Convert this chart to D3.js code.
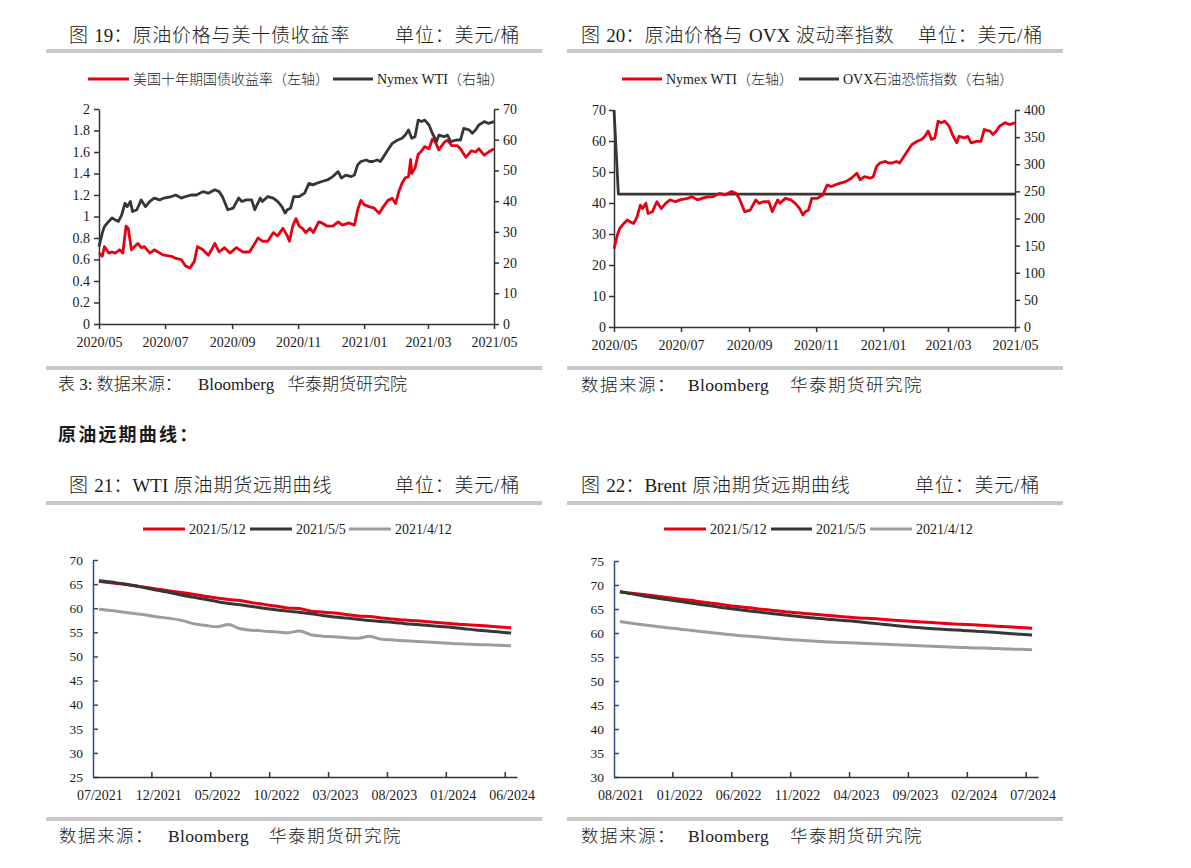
<!DOCTYPE html>
<html><head><meta charset="utf-8">
<script src="https://cdn.jsdelivr.net/npm/d3@7"></script>
<style>
html,body{margin:0;padding:0;background:#fff;}
svg{display:block;font-family:"Liberation Serif","Times New Roman","Noto Sans CJK SC",serif;}
.cjk{font-family:"Liberation Serif","Noto Sans CJK SC",sans-serif;font-weight:300;}
</style></head>
<body>
<svg id="c" width="1191" height="868"></svg>
<script>
// ---------- DATA ----------
// 图19 / 图20 : time series
const yieldDates = ["2020-05-01","2020-05-04","2020-05-06","2020-05-10","2020-05-13","2020-05-16","2020-05-20","2020-05-23","2020-05-26","2020-05-28","2020-05-31","2020-06-03","2020-06-06","2020-06-09","2020-06-12","2020-06-17","2020-06-21","2020-06-26","2020-06-30","2020-07-07","2020-07-11","2020-07-16","2020-07-20","2020-07-24","2020-07-28","2020-07-31","2020-08-05","2020-08-10","2020-08-13","2020-08-16","2020-08-20","2020-08-25","2020-08-30","2020-09-05","2020-09-11","2020-09-17","2020-09-22","2020-09-25","2020-09-29","2020-10-04","2020-10-09","2020-10-13","2020-10-18","2020-10-22","2020-10-24","2020-10-27","2020-10-30","2020-11-02","2020-11-05","2020-11-08","2020-11-12","2020-11-15","2020-11-20","2020-11-23","2020-11-28","2020-12-03","2020-12-08","2020-12-12","2020-12-18","2020-12-23","2020-12-26","2020-12-29","2021-01-01","2021-01-06","2021-01-10","2021-01-15","2021-01-18","2021-01-23","2021-01-27","2021-01-30","2021-02-02","2021-02-05","2021-02-08","2021-02-11","2021-02-13","2021-02-14","2021-02-17","2021-02-20","2021-02-23","2021-02-26","2021-03-02","2021-03-05","2021-03-08","2021-03-11","2021-03-16","2021-03-19","2021-03-23","2021-03-28","2021-03-31","2021-04-05","2021-04-10","2021-04-14","2021-04-17","2021-04-22","2021-04-26","2021-05-01"];
const yieldVals = [0.66,0.63,0.72,0.66,0.67,0.66,0.69,0.66,0.91,0.89,0.69,0.72,0.75,0.71,0.72,0.66,0.69,0.66,0.64,0.63,0.61,0.60,0.54,0.52,0.58,0.72,0.69,0.64,0.69,0.75,0.67,0.71,0.66,0.71,0.67,0.67,0.75,0.80,0.77,0.77,0.85,0.82,0.89,0.82,0.77,0.91,0.98,0.91,0.89,0.85,0.89,0.85,0.95,0.94,0.91,0.91,0.95,0.92,0.94,0.92,1.06,1.15,1.11,1.09,1.08,1.03,1.08,1.15,1.17,1.12,1.23,1.31,1.36,1.37,1.53,1.40,1.45,1.58,1.61,1.65,1.63,1.72,1.69,1.62,1.69,1.71,1.66,1.66,1.63,1.55,1.61,1.60,1.63,1.57,1.60,1.63];

const wtiDates = ["2020-05-01","2020-05-04","2020-05-06","2020-05-10","2020-05-13","2020-05-16","2020-05-19","2020-05-22","2020-05-25","2020-05-27","2020-05-30","2020-06-01","2020-06-05","2020-06-09","2020-06-13","2020-06-17","2020-06-21","2020-06-26","2020-06-30","2020-07-07","2020-07-11","2020-07-16","2020-07-20","2020-07-25","2020-07-30","2020-08-05","2020-08-10","2020-08-16","2020-08-20","2020-08-23","2020-08-28","2020-09-02","2020-09-07","2020-09-10","2020-09-14","2020-09-19","2020-09-22","2020-09-27","2020-09-29","2020-10-04","2020-10-09","2020-10-13","2020-10-17","2020-10-20","2020-10-22","2020-10-25","2020-10-28","2020-11-02","2020-11-07","2020-11-11","2020-11-15","2020-11-18","2020-11-23","2020-11-28","2020-12-03","2020-12-08","2020-12-11","2020-12-15","2020-12-20","2020-12-23","2020-12-26","2020-12-29","2021-01-03","2021-01-06","2021-01-09","2021-01-13","2021-01-16","2021-01-19","2021-01-23","2021-01-27","2021-02-01","2021-02-05","2021-02-08","2021-02-11","2021-02-14","2021-02-17","2021-02-20","2021-02-23","2021-02-26","2021-03-02","2021-03-05","2021-03-09","2021-03-11","2021-03-16","2021-03-19","2021-03-22","2021-03-27","2021-03-31","2021-04-03","2021-04-08","2021-04-11","2021-04-14","2021-04-17","2021-04-22","2021-04-26","2021-05-01"];
const wtiVals = [25.2,29.6,31.7,33.4,34.5,33.9,33.4,35.5,39.3,38.2,39.9,36.6,37.2,40.4,38.2,39.9,41.0,40.4,41.0,41.5,42.0,41.0,41.5,42.0,42.0,43.1,42.6,43.7,43.1,41.5,37.2,37.7,41.0,39.9,40.4,40.4,37.2,41.0,39.9,41.5,41.0,39.9,38.2,36.1,37.2,37.7,41.5,41.5,42.6,45.8,45.3,45.8,46.4,46.9,48.0,49.6,47.5,48.5,48.0,48.5,51.8,52.9,53.4,52.9,52.9,53.4,52.9,54.5,56.7,58.8,59.9,60.5,61.5,63.2,60.5,61.0,66.4,65.9,66.4,64.8,62.1,59.4,61.5,61.0,61.5,59.4,59.9,59.9,63.7,63.2,62.1,63.2,64.8,65.9,65.3,65.9];

const ovxDates = ["2020-05-01","2020-05-05","2021-05-01"];
const ovxVals = [400,245,245];

const timeTickDates = ["2020-05-01","2020-07-01","2020-09-01","2020-11-01","2021-01-01","2021-03-01","2021-05-01"];
const timeTickLabels = ["2020/05","2020/07","2020/09","2020/11","2021/01","2021/03","2021/05"];
const yieldTicks = [0,0.2,0.4,0.6,0.8,1,1.2,1.4,1.6,1.8,2];
const wti70Ticks = [0,10,20,30,40,50,60,70];
const ovxTicks = [0,50,100,150,200,250,300,350,400];

// 图21 : WTI forward curves
const wtiMonths = ["07/2021","08/2021","09/2021","10/2021","11/2021","12/2021","01/2022","02/2022","03/2022","04/2022","05/2022","06/2022","07/2022","08/2022","09/2022","10/2022","11/2022","12/2022","01/2023","02/2023","03/2023","04/2023","05/2023","06/2023","07/2023","08/2023","09/2023","10/2023","11/2023","12/2023","01/2024","02/2024","03/2024","04/2024","05/2024","06/2024"];
const wtiCurve0512 = [65.55,65.3,65.0,64.65,64.3,63.95,63.6,63.25,62.9,62.5,62.1,61.8,61.6,61.15,60.8,60.45,60.05,59.95,59.4,59.2,59.0,58.7,58.4,58.3,57.95,57.75,57.55,57.4,57.2,57.0,56.8,56.6,56.45,56.3,56.1,55.95];
const wtiCurve0505 = [65.7,65.45,65.1,64.7,64.2,63.7,63.25,62.75,62.3,61.85,61.4,61.0,60.7,60.35,60.0,59.7,59.4,59.15,58.85,58.5,58.2,57.95,57.7,57.45,57.25,57.05,56.8,56.6,56.4,56.2,56.0,55.75,55.5,55.3,55.05,54.85];
const wtiCurve0412 = [59.8,59.55,59.2,58.9,58.6,58.2,57.9,57.5,56.8,56.45,56.15,56.6,55.75,55.45,55.25,55.1,54.9,55.3,54.5,54.2,54.1,53.9,53.75,54.2,53.55,53.4,53.25,53.1,53.0,52.85,52.7,52.6,52.5,52.4,52.3,52.2];
const wtiYTicks = [25,30,35,40,45,50,55,60,65,70];

// 图22 : Brent forward curves
const brentMonths = ["08/2021","09/2021","10/2021","11/2021","12/2021","01/2022","02/2022","03/2022","04/2022","05/2022","06/2022","07/2022","08/2022","09/2022","10/2022","11/2022","12/2022","01/2023","02/2023","03/2023","04/2023","05/2023","06/2023","07/2023","08/2023","09/2023","10/2023","11/2023","12/2023","01/2024","02/2024","03/2024","04/2024","05/2024","06/2024","07/2024"];
const brentCurve0512 = [68.6,68.3,68.0,67.7,67.4,67.1,66.8,66.45,66.15,65.8,65.5,65.25,64.95,64.7,64.45,64.2,64.0,63.8,63.6,63.4,63.2,63.05,62.9,62.7,62.55,62.4,62.25,62.1,61.95,61.8,61.7,61.55,61.4,61.3,61.15,61.0];
const brentCurve0505 = [68.6,68.15,67.7,67.35,66.95,66.6,66.25,65.9,65.55,65.2,64.9,64.6,64.3,64.0,63.75,63.5,63.25,63.0,62.8,62.6,62.4,62.15,61.9,61.65,61.4,61.2,61.0,60.85,60.7,60.55,60.4,60.25,60.1,59.9,59.75,59.6];
const brentCurve0412 = [62.4,62.05,61.7,61.4,61.1,60.85,60.55,60.25,60.0,59.75,59.5,59.3,59.1,58.9,58.7,58.55,58.4,58.25,58.1,58.0,57.9,57.8,57.7,57.6,57.5,57.4,57.3,57.2,57.1,57.0,56.9,56.85,56.75,56.65,56.6,56.5];
const brentYTicks = [30,35,40,45,50,55,60,65,70,75];

const curveLegend = ["2021/5/12","2021/5/5","2021/4/12"];

// ---------- STYLE ----------
const RED = "#e60012", DARK = "#363636", GRAY = "#9d9d9d", BAR = "#c8c8c8", TXT = "#1a1a1a";
const parse = d3.timeParse("%Y-%m-%d");
const svg = d3.select("#c");
svg.append("rect").attr("width",1191).attr("height",868).attr("fill","#fff");

function txt(x, y, s, size, opts={}) {
  const t = svg.append("text").attr("x",x).attr("y",y).text(s)
    .attr("font-size",size).attr("fill",opts.fill||TXT)
    .attr("dominant-baseline","central")
    .attr("text-anchor",opts.anchor||"start");
  if (opts.ls) t.attr("letter-spacing",opts.ls);
  if (opts.weight) t.attr("font-weight",opts.weight);
  if (opts.cls) t.attr("class",opts.cls);
  return t;
}
// multi-segment text: segments [[string, letterSpacing]]
function segText(x, y, segs, size, anchor) {
  const t = svg.append("text").attr("x",x).attr("y",y).attr("font-size",size).attr("fill",TXT)
    .attr("dominant-baseline","central").attr("text-anchor",anchor||"start").attr("class","cjk");
  segs.forEach(s => t.append("tspan").text(s[0]).attr("letter-spacing",s[1]));
  return t;
}
function bar(x1, x2, y) { svg.append("rect").attr("x",x1).attr("y",y).attr("width",x2-x1).attr("height",4).attr("fill",BAR); }
function legendItem(x1, x2, y, color, label) {
  svg.append("line").attr("x1",x1).attr("x2",x2).attr("y1",y).attr("y2",y).attr("stroke",color).attr("stroke-width",3);
  txt(x2+4, y, label, 14, {cls:"cjk"});
}
function styleAxis(g, color) {
  g.select(".domain").attr("stroke",color).attr("stroke-width",1.5);
  g.selectAll(".tick line").attr("stroke",color).attr("stroke-width",1.5);
  g.selectAll(".tick text").attr("fill",TXT).attr("font-family","Liberation Serif, Times New Roman, serif");
}
function source(y, parts, xs, size, lss) {
  parts.forEach((p,i)=>txt(xs[i], y, p, size, {cls:"cjk", ls:lss[i]}));
}

// ---------- headers ----------
const TS = 19, TL = 0.8;
segText(69, 35, [["图 ",TL],["19：",0],["原油价格与美十债收益率",TL]], TS);
segText(520, 35, [["单位：美元/桶",TL]], TS, "end");
bar(46, 542, 49);
segText(581, 35, [["图 ",TL],["20：",0],["原油价格与 ",TL],["OVX",0],[" 波动率指数",TL]], TS);
segText(1043, 35, [["单位：美元/桶",TL]], TS, "end");
bar(567, 1063, 49);

bar(46, 542, 366);
bar(567, 1063, 366);
source(384, ["表 3: 数据来源：","Bloomberg","华泰期货研究院"], [58,198,288], 17, [0,0,0]);
source(385, ["数据来源：","Bloomberg","华泰期货研究院"], [581,688,790], 17.5, [1.5,0.3,1.5]);

txt(58, 435, "原油远期曲线：", 18, {ls:2.2, weight:700});

segText(69, 485, [["图 ",TL],["21：",0],["WTI",0],[" 原油期货远期曲线",TL]], TS);
segText(520, 485, [["单位：美元/桶",TL]], TS, "end");
bar(46, 542, 501);
segText(581, 485, [["图 ",TL],["22：",0],["Brent",0],[" 原油期货远期曲线",TL]], TS);
segText(1040, 485, [["单位：美元/桶",TL]], TS, "end");
bar(567, 1063, 501);

bar(46, 542, 817);
bar(567, 1063, 817);
source(836, ["数据来源：","Bloomberg","华泰期货研究院"], [59,168,269], 17.5, [1.5,0.3,1.5]);
source(836, ["数据来源：","Bloomberg","华泰期货研究院"], [581,688,790], 17.5, [1.5,0.3,1.5]);

// ---------- legends ----------
legendItem(88, 129, 79, RED, "美国十年期国债收益率（左轴）");
legendItem(333, 373, 79, DARK, "Nymex WTI（右轴）");
legendItem(622, 662, 79, RED, "Nymex WTI（左轴）");
legendItem(799, 839, 79, DARK, "OVX石油恐慌指数（右轴）");
[[143,185,RED],[250,292,DARK],[349,391,GRAY]].forEach((d,i)=>legendItem(d[0],d[1],529,d[2],curveLegend[i]));
[[664,706,RED],[771,812,DARK],[870,912,GRAY]].forEach((d,i)=>legendItem(d[0],d[1],529,d[2],curveLegend[i]));

// ---------- dual-axis time charts ----------
function dualChart(c) {
  const x = d3.scaleTime().domain([parse("2020-05-01"), parse("2021-05-01")]).range([c.x0, c.x1]);
  const yL = d3.scaleLinear().domain(c.lDomain).range([c.yb, c.yt]);
  const yR = d3.scaleLinear().domain(c.rDomain).range([c.yb, c.yt]);
  const fmt = d3.format("~g");
  const gl = svg.append("g").attr("transform",`translate(${c.x0},0)`)
    .call(d3.axisLeft(yL).tickValues(c.lTicks).tickFormat(fmt).tickSize(5).tickSizeOuter(0).tickPadding(c.lPad))
    .attr("font-size",14);
  styleAxis(gl, "#333");
  const gr = svg.append("g").attr("transform",`translate(${c.x1},0)`)
    .call(d3.axisRight(yR).tickValues(c.rTicks).tickFormat(fmt).tickSize(5).tickSizeOuter(0).tickPadding(4))
    .attr("font-size",14);
  styleAxis(gr, "#333");
  const gb = svg.append("g").attr("transform",`translate(0,${c.yb})`)
    .call(d3.axisBottom(x).tickValues(timeTickDates.map(parse)).tickFormat((d,i)=>timeTickLabels[i]).tickSize(5).tickSizeOuter(0).tickPadding(8))
    .attr("font-size",14);
  styleAxis(gb, "#333");
  c.series.forEach(s => {
    const data = s.dates.map((d,i)=>({t:parse(d), v:s.vals[i]}));
    const y = s.axis === "L" ? yL : yR;
    svg.append("path").datum(data)
      .attr("d", d3.line().x(d=>x(d.t)).y(d=>y(d.v)))
      .attr("fill","none").attr("stroke",s.color).attr("stroke-width",2.8).attr("stroke-linejoin","round");
  });
}
dualChart({x0:99, x1:494, yt:109, yb:324, lDomain:[0,2], rDomain:[0,70], lTicks:yieldTicks, rTicks:wti70Ticks, lPad:4,
  series:[{dates:yieldDates, vals:yieldVals, color:RED, axis:"L"},{dates:wtiDates, vals:wtiVals, color:DARK, axis:"R"}]});
dualChart({x0:614, x1:1015, yt:110, yb:327, lDomain:[0,70], rDomain:[0,400], lTicks:wti70Ticks, rTicks:ovxTicks, lPad:3,
  series:[{dates:ovxDates, vals:ovxVals, color:DARK, axis:"R"},{dates:wtiDates, vals:wtiVals, color:RED, axis:"L"}]});

// ---------- forward curve charts ----------
function curveChart(c) {
  const x = d3.scaleBand().domain(c.months).range([c.x0, c.x1]);
  const y = d3.scaleLinear().domain(c.yDomain).range([c.yb, c.yt]);
  const gy = svg.append("g").attr("transform",`translate(${c.x0},0)`)
    .call(d3.axisLeft(y).tickValues(c.yTicks).tickSize(-5).tickSizeOuter(0).tickPadding(10))
    .attr("font-size",13.5);
  styleAxis(gy, "#2a4a8c");
  const labIdx = c.months.filter((m,i)=>i%5===0);
  const gx = svg.append("g").attr("transform",`translate(0,${c.yb})`)
    .call(d3.axisBottom(x).tickValues(labIdx).tickSize(0).tickSizeOuter(0).tickPadding(13))
    .attr("font-size",14);
  styleAxis(gx, "#333");
  gx.selectAll(".tick text").attr("dx", 1);
  svg.append("g").selectAll("line").data(c.months.filter((m,i)=>i>0 && i%5===0)).join("line")
    .attr("x1",d=>x(d)).attr("x2",d=>x(d)).attr("y1",c.yb).attr("y2",c.yb-5)
    .attr("stroke","#333").attr("stroke-width",1.5);
  const line = d3.line().x((d,i)=>x(c.months[i])+x.bandwidth()/2).y(d=>y(d)).curve(d3.curveMonotoneX);
  c.series.forEach(s => {
    svg.append("path").datum(s.vals).attr("d",line)
      .attr("fill","none").attr("stroke",s.color).attr("stroke-width",3).attr("stroke-linejoin","round");
  });
}
curveChart({x0:93, x1:517, yt:560, yb:777, yDomain:[25,70], yTicks:wtiYTicks, months:wtiMonths,
  series:[{vals:wtiCurve0412,color:GRAY},{vals:wtiCurve0512,color:RED},{vals:wtiCurve0505,color:DARK}]});
curveChart({x0:614, x1:1038, yt:561, yb:777, yDomain:[30,75], yTicks:brentYTicks, months:brentMonths,
  series:[{vals:brentCurve0412,color:GRAY},{vals:brentCurve0512,color:RED},{vals:brentCurve0505,color:DARK}]});
</script>
</body></html>
